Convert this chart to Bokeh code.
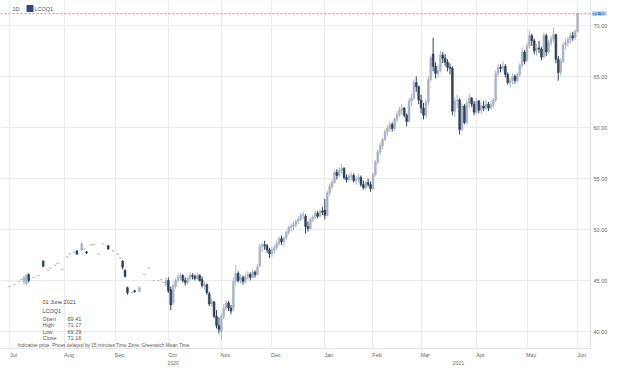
import numpy as np
import pandas as pd
from bokeh.plotting import figure
from bokeh.models import (ColumnDataSource, FixedTicker, Span, Label, Range1d,
                          CustomJSTickFormatter, PrintfTickFormatter)
from bokeh.embed import file_html
from bokeh.resources import INLINE

# ---------------- data (LCOQ1 daily OHLC) ----------------
holidays = ["2020-12-25", "2021-01-01", "2021-04-02"]
price_ticks = [40, 45, 50, 55, 60, 65, 70]
year_labels = ["2020", "2021"]
last_date = "01 June 2021"
symbol = "LCOQ1"
last_ohlc = {"Open": "69.41", "High": "71.17", "Low": "69.29", "Close": "71.16"}
last_price = 71.16

N = None
opens = [
    44.4, N, 44.6, N, 44.9, 45.1, 44.9, 44.7, 45.6, N, 45.3, N, 45.5, N, 46.9, N, 46.0, 46.2, N, 46.5, 46.7, N, 46.1,
    N, 47.3, 47.6, N, 47.8, 47.9, N, 48.0, 48.1, 47.8, N, 48.5, 48.5, N, 47.6, N, 48.6, N, 48.4, N, 47.9,
    N, 47.6, 47.2, 46.9, 46.0, 44.3, N, 43.8, 44.0, N, 43.9, N, 45.6, N, 46.2, N, 45.0, N, 45.0, 45.1, 44.8, 44.6,
    45.0, 44.1, 42.8, 44.4, 45.0, 45.3, 45.5, 45.0, 44.8, 45.2, 45.5, 45.4, 45.2, 45.5, 45.1, 44.5, 44.6, 43.7, 42.7, 42.9, 41.5, 40.6,
    40.0, 41.5, 42.3, 42.8, 42.3, 42.3, 44.9, 45.7, 45.0, 45.3, 44.9, 45.4, 45.6, 45.3, 45.8, 45.6, 46.4, 48.3, 48.5, 48.4, 48.0,
    47.6, 48.0, 48.2, 48.6, 49.1, 48.8, 49.2, 49.7, 50.2, 50.3, 50.5, 50.8, 51.0, 51.4, 51.3, 50.3, 50.1, 51.0, 51.2, 51.6, 51.3, 51.8,
    51.9, 51.4, 53.6, 54.2, 54.6, 55.6, 55.3, 55.8, 56.0, 55.1, 54.9, 55.2, 55.3, 54.8, 54.9, 55.1, 54.4, 54.1, 54.6, 54.4,
    54.0, 55.4, 56.6, 57.6, 58.2, 58.8, 59.6, 59.9, 60.3, 59.9, 60.8, 61.3, 61.7, 61.9, 61.2, 60.6, 62.6, 62.9, 64.4, 64.0,
    62.7, 61.9, 61.2, 62.5, 64.7, 67.2, 66.0, 65.3, 65.6, 67.1, 66.8, 66.4, 65.9, 65.8, 61.6, 62.6, 62.7, 59.8, 62.1, 60.5, 62.4, 62.9, 62.3,
    61.5, 62.6, 61.7, 62.1, 61.9, 62.3, 61.9, 62.2, 62.7, 65.3, 65.9, 65.8, 66.0, 65.2, 64.4, 64.6, 65.0, 64.6, 65.2, 66.1, 67.4,
    66.6, 68.0, 69.0, 68.5, 67.5, 67.8, 67.7, 66.9, 69.0, 67.4, 68.3, 68.7, 69.1, 66.7, 65.4, 66.5, 68.1, 68.3, 68.6, 69.0, 68.8, 69.41,
]
highs = [
    44.4, N, 44.6, N, 44.9, 45.1, 45.5, 45.7, 45.7, N, 45.3, N, 45.5, N, 47.0, N, 46.0, 46.2, N, 46.5, 46.7, N, 46.1,
    N, 47.3, 47.6, N, 47.8, 48.0, N, 48.8, 48.1, 47.9, N, 48.5, 48.5, N, 47.6, N, 48.6, N, 48.5, N, 47.9,
    N, 47.6, 47.2, 47.0, 46.1, 44.4, N, 43.8, 44.1, N, 44.4, N, 45.6, N, 46.2, N, 45.0, N, 45.0, 45.1, 44.8, 45.3,
    45.3, 44.4, 44.8, 45.2, 45.7, 45.8, 45.6, 45.3, 45.4, 45.8, 45.7, 45.6, 45.8, 45.6, 45.4, 44.9, 44.7, 43.9, 43.3, 43.0, 42.1, 41.4,
    41.8, 42.7, 43.1, 43.0, 42.6, 45.3, 46.5, 45.9, 45.6, 45.5, 45.7, 45.9, 45.8, 46.1, 46.0, 46.6, 48.6, 48.7, 48.9, 48.6, 48.2,
    48.3, 48.5, 48.9, 49.3, 49.4, 49.3, 49.9, 50.4, 50.6, 50.8, 51.0, 51.3, 51.6, 51.8, 51.5, 50.8, 51.2, 51.4, 51.9, 51.8, 52.0, 52.2,
    53.0, 53.8, 54.5, 54.9, 55.8, 55.9, 56.1, 56.4, 56.1, 55.4, 55.5, 55.6, 55.5, 55.2, 55.4, 55.3, 54.8, 54.8, 55.0, 54.7,
    55.6, 56.8, 57.8, 58.5, 59.0, 59.8, 60.2, 60.6, 60.5, 61.0, 61.6, 62.0, 62.3, 62.0, 61.4, 62.9, 63.3, 64.7, 65.0, 64.1,
    63.2, 62.4, 62.8, 65.0, 67.0, 68.8, 66.4, 66.1, 67.5, 67.4, 67.2, 66.7, 66.3, 66.0, 62.9, 63.2, 62.9, 62.4, 62.3, 62.7, 63.3, 63.0, 62.6,
    62.9, 62.7, 62.4, 62.6, 62.7, 62.5, 62.6, 62.9, 65.6, 66.2, 66.2, 66.5, 66.2, 65.4, 64.9, 65.3, 65.2, 65.4, 66.3, 67.8, 67.6,
    68.3, 69.5, 69.2, 68.7, 68.2, 68.5, 67.9, 69.3, 69.2, 68.6, 69.0, 69.8, 69.2, 67.0, 66.8, 68.4, 68.7, 68.9, 69.3, 69.4, 69.6, 71.17,
]
lows = [
    44.4, N, 44.6, N, 44.9, 45.1, 44.6, 44.5, 44.8, N, 45.3, N, 45.5, N, 46.3, N, 46.0, 46.2, N, 46.5, 46.7, N, 46.1,
    N, 47.3, 47.6, N, 47.8, 47.5, N, 47.9, 48.1, 47.6, N, 48.5, 48.5, N, 47.6, N, 48.6, N, 48.0, N, 47.9,
    N, 47.6, 47.2, 46.1, 45.3, 43.6, N, 43.8, 43.8, N, 43.9, N, 45.6, N, 46.2, N, 45.0, N, 45.0, 45.1, 44.8, 44.4,
    43.8, 42.1, 42.6, 44.2, 44.8, 45.0, 44.8, 44.5, 44.6, 45.0, 45.1, 45.0, 45.1, 44.9, 44.3, 44.1, 43.6, 42.5, 42.4, 41.3, 40.3, 39.8,
    39.2, 41.2, 42.0, 42.0, 41.7, 42.0, 44.5, 44.8, 44.7, 44.6, 44.7, 45.1, 45.0, 45.2, 45.3, 45.5, 46.3, 47.8, 48.0, 47.7, 47.2,
    47.3, 47.6, 48.0, 48.4, 48.5, 48.4, 49.0, 49.5, 49.8, 49.9, 50.2, 50.5, 50.8, 51.0, 49.6, 49.8, 50.0, 50.7, 51.0, 51.1, 51.2, 51.4,
    51.0, 51.3, 53.3, 53.9, 54.5, 54.9, 55.1, 55.5, 54.9, 54.6, 54.7, 54.8, 54.6, 54.4, 54.6, 54.2, 53.9, 53.9, 54.2, 53.7,
    53.9, 55.2, 56.4, 57.3, 57.9, 58.7, 59.2, 59.6, 59.6, 59.7, 60.5, 61.0, 61.2, 61.0, 60.1, 60.5, 62.1, 62.7, 63.5, 62.3,
    61.4, 60.8, 60.9, 62.2, 64.5, 65.5, 64.8, 64.9, 65.4, 66.3, 66.0, 65.5, 65.2, 61.2, 61.0, 61.9, 59.3, 59.6, 60.3, 60.3, 61.9, 62.0, 61.2,
    61.3, 61.4, 61.3, 61.6, 61.7, 61.6, 61.7, 61.9, 62.5, 65.0, 65.4, 65.5, 64.9, 64.2, 63.9, 64.2, 64.3, 64.4, 65.0, 65.9, 66.2,
    66.4, 67.8, 68.0, 67.2, 67.0, 67.3, 66.6, 66.8, 67.0, 67.2, 68.0, 68.4, 66.3, 64.6, 65.1, 66.3, 67.7, 67.9, 68.2, 68.5, 68.6, 69.29,
]
closes = [
    44.4, N, 44.6, N, 44.9, 45.1, 45.3, 45.5, 45.0, N, 45.3, N, 45.5, N, 46.4, N, 46.0, 46.2, N, 46.5, 46.7, N, 46.1,
    N, 47.3, 47.6, N, 47.8, 47.6, N, 48.6, 48.1, 47.7, N, 48.5, 48.5, N, 47.6, N, 48.6, N, 48.1, N, 47.9,
    N, 47.6, 47.2, 46.3, 45.4, 43.8, N, 43.8, 43.9, N, 44.3, N, 45.6, N, 46.2, N, 45.0, N, 45.0, 45.1, 44.8, 45.0,
    44.0, 42.6, 44.5, 45.0, 45.3, 45.5, 45.0, 44.8, 45.2, 45.5, 45.4, 45.2, 45.5, 45.0, 44.5, 44.6, 43.8, 42.7, 43.0, 41.5, 40.6, 40.2,
    41.5, 42.3, 42.8, 42.3, 42.0, 44.9, 45.7, 45.0, 45.3, 44.9, 45.4, 45.6, 45.3, 45.8, 45.6, 46.3, 48.3, 48.5, 48.4, 48.0, 47.6,
    48.0, 48.2, 48.6, 49.1, 48.8, 49.2, 49.7, 50.2, 50.3, 50.5, 50.8, 51.0, 51.4, 51.5, 50.3, 50.1, 51.0, 51.2, 51.6, 51.3, 51.8, 51.7,
    51.4, 53.6, 54.2, 54.6, 55.6, 55.3, 55.8, 56.0, 55.1, 54.9, 55.2, 55.3, 54.8, 54.9, 55.1, 54.4, 54.1, 54.6, 54.4, 54.0,
    55.4, 56.6, 57.6, 58.2, 58.8, 59.6, 59.9, 60.3, 59.9, 60.8, 61.3, 61.7, 61.9, 61.2, 60.6, 62.6, 62.9, 64.4, 64.0, 62.7,
    61.9, 61.2, 62.5, 64.7, 66.8, 66.0, 65.3, 65.6, 67.1, 66.8, 66.4, 65.9, 65.8, 61.6, 62.6, 62.7, 59.8, 62.1, 60.5, 62.4, 62.9, 62.3, 61.5,
    62.6, 61.7, 62.1, 61.9, 62.3, 61.9, 62.2, 62.7, 65.3, 65.9, 65.8, 66.0, 65.2, 64.4, 64.6, 65.0, 64.6, 65.2, 66.1, 67.4, 66.5,
    68.0, 69.0, 68.5, 67.5, 67.8, 67.7, 66.9, 69.0, 67.4, 68.3, 68.7, 69.1, 66.7, 65.4, 66.5, 68.1, 68.3, 68.6, 69.0, 68.8, 69.4, 71.16,
]

# ---------------- trading-day axis ----------------
dates = pd.bdate_range("2020-07-01", "2021-06-01")
dates = dates[~dates.isin(pd.to_datetime(holidays))]
n = len(dates)
month_starts = [i for i in range(n) if i == 0 or dates[i].month != dates[i - 1].month]
month_names = [dates[i].strftime("%b") for i in month_starts]
year_spans = []
for yr in (2020, 2021):
    ii = [i for i in range(n) if dates[i].year == yr]
    year_spans.append(ii)

df = pd.DataFrame(dict(x=np.arange(n), o=opens, h=highs, l=lows, c=closes), dtype=float)
df = df.dropna()
df["top"] = df[["o", "c"]].max(axis=1)
df["bot"] = df[["o", "c"]].min(axis=1)
df["flat"] = df["h"] == df["l"]

UP = "#a8b4c4"
DN = "#2f415b"
DOT = "#b9c3cf"

# page-pixel helpers for annotation placement (page == canvas, body margin is 0)
PX0, PXS = 9.0, 2.407
PY0, PYS = 25.0, 10.2
def fx(px):
    return (px - PX0) / PXS
def fy(py):
    return 70 - (py - PY0) / PYS

FR_W, FR_H = 590, 348  # frame size in px (frame starts at canvas 0,0)

p = figure(frame_width=FR_W, frame_height=FR_H, output_backend="svg", toolbar_location=None,
           x_range=Range1d(fx(0), fx(FR_W)), y_range=Range1d(fy(FR_H), fy(0)),
           y_axis_location="right", min_border_left=0, min_border_top=0,
           min_border_right=0, min_border_bottom=0)
p.outline_line_color = None
p.background_fill_color = "white"
p.border_fill_color = "white"

# grids
p.xgrid.ticker = FixedTicker(ticks=month_starts)
p.ygrid.ticker = FixedTicker(ticks=price_ticks)
p.xgrid.grid_line_color = "#ebebeb"
p.ygrid.grid_line_color = "#ebebeb"

# right price axis
ya = p.yaxis[0]
ya.ticker = FixedTicker(ticks=price_ticks)
ya.formatter = PrintfTickFormatter(format="%.2f")
ya.major_label_text_font_size = "5.5px"
ya.major_label_text_color = "#666666"
ya.major_label_text_font = "Liberation Sans"
ya.major_tick_line_color = None
ya.minor_tick_line_color = None
ya.major_tick_out = 0
ya.major_tick_in = 0
ya.minor_tick_out = 0
ya.axis_line_color = "#e2e2e2"
ya.major_label_standoff = 3

# bottom month axis
xa = p.xaxis[0]
xa.ticker = FixedTicker(ticks=[m + 1.7 for m in month_starts])
xa.formatter = CustomJSTickFormatter(args=dict(names=month_names), code="return names[index] || '';")
xa.major_label_text_font_size = "5.5px"
xa.major_label_text_color = "#666666"
xa.major_label_text_font = "Liberation Sans"
xa.major_tick_line_color = None
xa.minor_tick_line_color = None
xa.major_tick_out = 0
xa.major_tick_in = 0
xa.minor_tick_out = 0
xa.axis_line_color = "#e2e2e2"
xa.major_label_standoff = 3

# candles
for up, col in ((True, UP), (False, DN)):
    d = df[(df["c"] >= df["o"]) == up]
    d_c = d[~d["flat"]]
    src = ColumnDataSource(d_c)
    p.segment(x0="x", y0="l", x1="x", y1="h", source=src, line_color=col, line_width=1)
    p.vbar(x="x", top="top", bottom="bot", width=0.75, source=src,
           fill_color=col, line_color=col, line_width=0.6)
dots = ColumnDataSource(df[df["flat"]])
p.vbar(x="x", top="top", bottom="bot", width=0.9, source=dots,
       fill_color=DOT, line_color=DOT, line_width=1)

# last-price dashed line and tag (tag lives in the right panel, beside the axis)
p.add_layout(Span(location=last_price, dimension="width", line_color="#e8788c",
                  line_dash="2 2", line_width=1))
p.add_layout(Label(x=fx(592), y=last_price, text=f"{last_price:.2f}", text_font_size="5.5px",
                   text_color="white", text_baseline="middle", text_align="left",
                   background_fill_color="#4f8fd8", text_font="Liberation Sans"), "right")

# header
p.add_layout(Label(x=fx(12), y=fy(8), text="1D", text_font_size="5.5px", text_color="#555555",
                   text_baseline="middle", text_font="Liberation Sans"))
p.rect(x=[fx(29.5)], y=[fy(8)], width=6, height=6, width_units="screen",
       height_units="screen", fill_color="#2e4a7d", line_color="#2e4a7d")
p.add_layout(Label(x=fx(34), y=fy(8), text=symbol, text_font_size="5.5px", text_color="#555555",
                   text_baseline="middle", text_font="Liberation Sans"))

# info box
info_x, val_x = fx(42), fx(67)
p.add_layout(Label(x=info_x, y=fy(301), text=last_date, text_font_size="5.5px",
                   text_color="#444444", text_baseline="middle", text_font="Liberation Sans"))
p.add_layout(Label(x=info_x, y=fy(310), text=symbol, text_font_size="5.5px",
                   text_color="#444444", text_baseline="middle", text_font="Liberation Sans"))
for k, (name, val) in enumerate(last_ohlc.items()):
    yy = fy(318.5 + 6.3 * k)
    p.add_layout(Label(x=info_x, y=yy, text=name, text_font_size="5.5px", text_color="#555555",
                       text_baseline="middle", text_font="Liberation Sans"))
    p.add_layout(Label(x=val_x, y=yy, text=val, text_font_size="5.5px", text_color="#555555",
                       text_baseline="middle", text_font="Liberation Sans"))

p.add_layout(Label(x=fx(17), y=fy(345),
                   text="Indicative price. Prices delayed by 15 minutes    Time Zone: Greenwich Mean Time",
                   text_font_size="4.8px", text_color="#555555", text_baseline="middle",
                   text_font="Liberation Sans"))

# year labels under month labels (in the bottom panel)
for lab, ii in zip(year_labels, year_spans):
    cx = (ii[0] + ii[-1] + 6) / 2.0
    p.add_layout(Label(x=cx, y=fy(362), text=lab, text_font_size="5px", text_color="#666666",
                       text_baseline="middle", text_align="center", text_font="Liberation Sans"),
                 "below")

open("out.html", "w").write(file_html(p, INLINE))
